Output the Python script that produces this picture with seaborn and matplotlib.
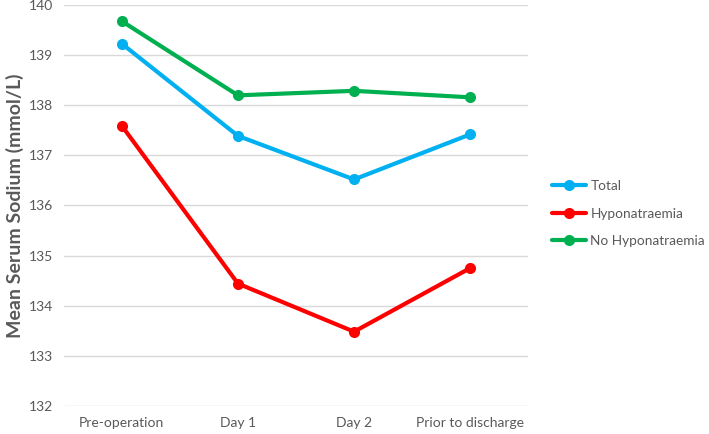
import pandas as pd
import matplotlib.pyplot as plt
import seaborn as sns

stages = ['Pre-operation', 'Day 1', 'Day 2', 'Prior to discharge']
total = [139.23, 137.39, 136.52, 137.42]
hypo = [137.59, 134.44, 133.48, 134.75]
no_hypo = [139.68, 138.20, 138.29, 138.16]
groups = ['Total', 'Hyponatraemia', 'No Hyponatraemia']
colors = ['#00B0F0', '#FF0000', '#00B050']

rows = []
for g, vals in zip(groups, [total, hypo, no_hypo]):
    for s, v in zip(stages, vals):
        rows.append({'stage': s, 'sodium': v, 'group': g})
df = pd.DataFrame(rows)

sns.set_style('white')
plt.rcParams['font.family'] = ['Lato', 'DejaVu Sans']
gray = '#595959'

fig = plt.figure(figsize=(7.09, 4.34), dpi=100)
ax = fig.add_axes([0.09, 0.065, 0.655, 0.923])
sns.lineplot(data=df, x='stage', y='sodium', hue='group', palette=colors,
             marker='o', markersize=8, markeredgewidth=0, linewidth=3, ax=ax,
             sort=False)

ax.set_ylim(132, 140)
ax.set_yticks(range(132, 141))
ax.set_xlim(-0.5, 3.5)
ax.yaxis.grid(True, color='#D9D9D9', linewidth=1)
ax.set_axisbelow(True)
for sp in ax.spines.values():
    sp.set_visible(False)
ax.tick_params(axis='both', length=0, colors=gray, labelsize=10, pad=8)
ax.set_xlabel('')
ax.set_ylabel('Mean Serum Sodium (mmol/L)', color=gray, fontsize=14,
              fontweight='bold', labelpad=3)

leg = ax.legend(title=None, frameon=False, loc='center left',
                bbox_to_anchor=(1.04, 0.48), fontsize=9.8, handlelength=2.5,
                labelspacing=1.15, handletextpad=0.3, borderaxespad=0)
for t in leg.get_texts():
    t.set_color(gray)

plt.savefig('out.png', dpi=100)
